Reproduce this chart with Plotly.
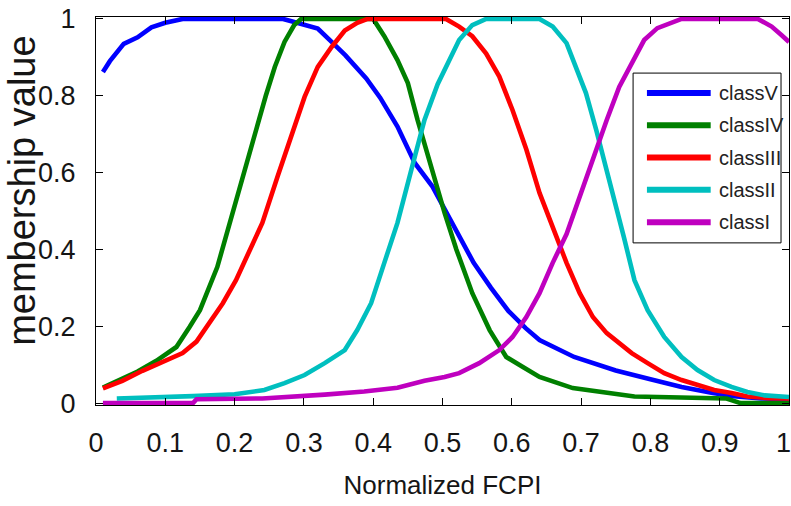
import plotly.graph_objects as go

# ---- data ----
names = ["classV", "classIV", "classIII", "classII", "classI"]
colors = ["#0000FF", "#008000", "#FF0000", "#00BFBF", "#BF00BF"]

x_classV = [0.01, 0.02, 0.04, 0.06, 0.08, 0.10, 0.125, 0.27, 0.29, 0.32, 0.34, 0.36, 0.39, 0.41,
            0.435, 0.46, 0.485, 0.50, 0.52, 0.545, 0.57, 0.595, 0.62, 0.64, 0.69, 0.75, 0.80,
            0.845, 0.89, 0.92, 0.96, 1.0]
y_classV = [0.862, 0.89, 0.935, 0.952, 0.978, 0.99, 1.0, 1.0, 0.99, 0.975, 0.94, 0.905, 0.845, 0.795,
            0.72, 0.625, 0.565, 0.515, 0.45, 0.365, 0.30, 0.24, 0.195, 0.164, 0.12, 0.085, 0.062,
            0.042, 0.026, 0.018, 0.012, 0.01]

x_classIV = [0.01, 0.04, 0.06, 0.087, 0.116, 0.135, 0.15, 0.175, 0.193, 0.211, 0.231, 0.245, 0.258,
             0.272, 0.286, 0.296, 0.40, 0.416, 0.435, 0.45, 0.464, 0.478, 0.493, 0.503, 0.52, 0.543,
             0.568, 0.592, 0.616, 0.64, 0.688, 0.737, 0.777, 0.91, 0.93, 1.0]
y_classIV = [0.04, 0.065, 0.082, 0.11, 0.146, 0.198, 0.242, 0.354, 0.469, 0.589, 0.71, 0.80, 0.875,
             0.94, 0.984, 1.0, 1.0, 0.955, 0.893, 0.833, 0.737, 0.65, 0.555, 0.495, 0.40, 0.286,
             0.19, 0.12, 0.094, 0.068, 0.039, 0.026, 0.017, 0.012, 0.0, 0.0]

x_classIII = [0.01, 0.038, 0.067, 0.096, 0.125, 0.145, 0.164, 0.183, 0.202, 0.222, 0.24, 0.262, 0.282,
              0.301, 0.32, 0.34, 0.359, 0.377, 0.392, 0.505, 0.524, 0.543, 0.563, 0.582, 0.601, 0.621,
              0.64, 0.659, 0.679, 0.698, 0.717, 0.737, 0.755, 0.773, 0.796, 0.82, 0.845, 0.868, 0.892,
              0.917, 0.94, 0.97, 1.0]
y_classIII = [0.038, 0.058, 0.084, 0.108, 0.13, 0.16, 0.208, 0.26, 0.32, 0.398, 0.469, 0.59, 0.70,
              0.797, 0.875, 0.927, 0.97, 0.99, 1.0, 1.0, 0.98, 0.955, 0.91, 0.85, 0.763, 0.66,
              0.547, 0.458, 0.365, 0.286, 0.224, 0.182, 0.156, 0.13, 0.104, 0.078, 0.06, 0.047, 0.034,
              0.026, 0.017, 0.013, 0.012]

x_classII = [0.03, 0.1, 0.14, 0.2, 0.243, 0.272, 0.301, 0.33, 0.359, 0.377, 0.397, 0.416, 0.435, 0.455,
             0.474, 0.493, 0.51, 0.524, 0.543, 0.563, 0.64, 0.659, 0.679, 0.693, 0.707, 0.722, 0.737,
             0.75, 0.762, 0.777, 0.796, 0.82, 0.845, 0.868, 0.892, 0.917, 0.94, 0.965, 1.0]
y_classII = [0.012, 0.014, 0.018, 0.023, 0.034, 0.052, 0.073, 0.104, 0.138, 0.19, 0.26, 0.365, 0.469,
             0.607, 0.737, 0.83, 0.89, 0.945, 0.984, 1.0, 1.0, 0.98, 0.937, 0.875, 0.807, 0.71, 0.607,
             0.52, 0.43, 0.32, 0.242, 0.172, 0.12, 0.086, 0.06, 0.042, 0.029, 0.02, 0.016]

x_classI = [0.01, 0.14, 0.145, 0.24, 0.33, 0.387, 0.435, 0.474, 0.503, 0.524, 0.553, 0.582, 0.601,
            0.621, 0.64, 0.659, 0.679, 0.698, 0.717, 0.737, 0.755, 0.777, 0.791, 0.81, 0.83, 0.845,
            0.955, 0.975, 0.989, 1.0]
y_classI = [0.0, 0.0, 0.01, 0.012, 0.022, 0.03, 0.04, 0.058, 0.068, 0.078, 0.104, 0.138, 0.172,
            0.224, 0.286, 0.365, 0.44, 0.536, 0.64, 0.737, 0.823, 0.90, 0.945, 0.976, 0.99, 1.0,
            1.0, 0.98, 0.958, 0.94]

x_ticks = [0, 0.1, 0.2, 0.3, 0.4, 0.5, 0.6, 0.7, 0.8, 0.9, 1]
x_ticklabels = ["0", "0.1", "0.2", "0.3", "0.4", "0.5", "0.6", "0.7", "0.8", "0.9", "1"]
y_ticks = [0, 0.2, 0.4, 0.6, 0.8, 1]
y_ticklabels = ["0", "0.2", "0.4", "0.6", "0.8", "1"]

x_title = "Normalized FCPI"
y_title = "membership value"

series_x = [x_classV, x_classIV, x_classIII, x_classII, x_classI]
series_y = [y_classV, y_classIV, y_classIII, y_classII, y_classI]

FONT = "Liberation Sans, Arial, sans-serif"
TXT = "#151515"

fig = go.Figure()
for nm, c, xs, ys in zip(names, colors, series_x, series_y):
    fig.add_trace(go.Scatter(x=xs, y=ys, mode="lines", name=nm,
                             line=dict(color=c, width=4.6), showlegend=False))

# custom legend (box, line samples, labels)
lg_x0, lg_x1, lg_y0, lg_y1 = 0.775, 0.9885, 0.417, 0.859
row0, step = 0.807, 0.084
shapes = [dict(type="rect", xref="x", yref="y", x0=lg_x0, x1=lg_x1, y0=lg_y0, y1=lg_y1,
               line=dict(color="black", width=1), fillcolor="white", layer="above")]
annotations = []
for i, (nm, c) in enumerate(zip(names, colors)):
    yy = row0 - i * step
    shapes.append(dict(type="line", xref="x", yref="y", x0=0.795, x1=0.887, y0=yy, y1=yy,
                       line=dict(color=c, width=6), layer="above"))
    annotations.append(dict(x=0.8955, y=yy, xref="x", yref="y", text=nm, showarrow=False,
                            xanchor="left", yanchor="middle",
                            font=dict(family=FONT, size=20, color="#222222")))

# y-axis title as rotated annotation
annotations.append(dict(x=-0.107, y=0.5515, xref="paper", yref="paper", text=y_title,
                        showarrow=False, textangle=-90, xanchor="center", yanchor="middle",
                        font=dict(family=FONT, size=38, color=TXT)))

# last x tick label sits at the page edge: draw it nudged inward so it stays whole
tick_text_axis = x_ticklabels[:-1] + [""]
annotations.append(dict(x=x_ticks[-1], y=0, xref="x", yref="y", text=x_ticklabels[-1],
                        showarrow=False, xanchor="center", yanchor="top", xshift=-6, yshift=-23,
                        font=dict(family=FONT, size=27, color=TXT)))

fig.update_layout(
    width=791, height=506,
    margin=dict(l=96, r=2, t=17, b=101, autoexpand=False),
    paper_bgcolor="white", plot_bgcolor="white",
    shapes=shapes, annotations=annotations,
    showlegend=False,
)
fig.update_xaxes(range=[0, 1], tickvals=x_ticks, ticktext=tick_text_axis, automargin=False,
                 showgrid=False, zeroline=False, showline=True, linecolor="black", linewidth=1,
                 mirror="ticks", ticks="inside", ticklen=7, tickcolor="black",
                 tickfont=dict(family=FONT, size=27, color=TXT), ticklabelstandoff=14,
                 title=dict(text=x_title, font=dict(family=FONT, size=26, color=TXT),
                            standoff=18))
fig.update_yaxes(range=[-0.005, 1.005], tickvals=y_ticks, ticktext=y_ticklabels, automargin=False,
                 showgrid=False, zeroline=False, showline=True, linecolor="black", linewidth=1,
                 mirror="ticks", ticks="inside", ticklen=7, tickcolor="black",
                 tickfont=dict(family=FONT, size=27, color=TXT), ticklabelstandoff=14)

fig.write_html("out.html")
